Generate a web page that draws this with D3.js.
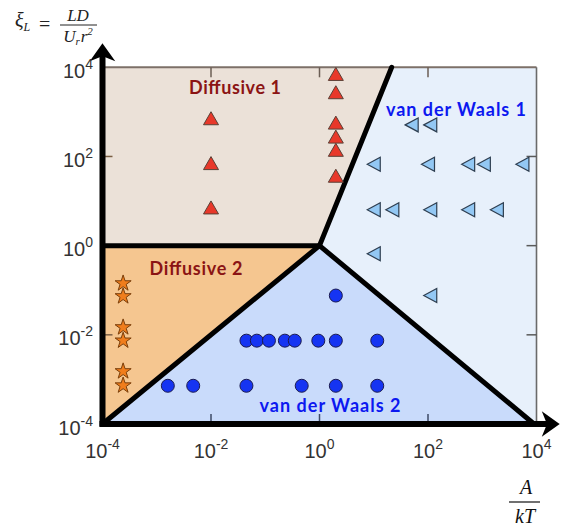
<!DOCTYPE html>
<html><head><meta charset="utf-8">
<script src="https://cdn.jsdelivr.net/npm/d3@7"></script>
<style>
html,body{margin:0;padding:0;background:#fff;}
svg{display:block;}
</style></head>
<body>
<svg id="chart" width="563" height="528"></svg>
<script>
// ---------- data ----------
const tickValues = [1e-4, 1e-2, 1e0, 1e2, 1e4];
const tickExponents = ["-4", "-2", "0", "2", "4"];

// Diffusive 1 (red up-triangles)
const diff1X = [0.01, 0.01, 0.01, 2, 2, 2, 2, 2, 2];
const diff1Y = [720, 71, 7.2, 7100, 2760, 575, 279, 141, 37];

// van der Waals 1 (light-blue left-triangles)
const vdw1X = [50, 110, 10, 100, 550, 1070, 5500, 10, 22, 110, 550, 1860, 10, 110];
const vdw1Y = [511, 511, 67, 67, 67, 67, 67, 6.4, 6.4, 6.4, 6.4, 6.4, 0.66, 0.076];

// van der Waals 2 (blue circles)
const vdw2X = [2, 0.045, 0.07, 0.117, 0.23, 0.35, 0.95, 2, 11.6, 0.0016, 0.0047, 0.045, 0.47, 2, 11.6];
const vdw2Y = [0.076, 0.0074, 0.0074, 0.0074, 0.0074, 0.0074, 0.0074, 0.0074, 0.0074,
               0.00072, 0.00072, 0.00072, 0.00072, 0.00072, 0.00072];

// Diffusive 2 (orange stars)
const diff2X = [2.4e-4, 2.4e-4, 2.4e-4, 2.4e-4, 2.4e-4, 2.4e-4];
const diff2Y = [0.15, 0.077, 0.0155, 0.0078, 0.0016, 0.00077];

// regime boundaries (data units)
const diff1Poly = [[1e-4, 1], [1e-4, 1e4], [21.4, 1e4], [1, 1]];
const diff2Poly = [[1e-4, 1e-4], [1e-4, 1], [1, 1]];
const vdw2Poly  = [[1e-4, 1e-4], [1, 1], [9000, 1e-4]];
const vdw1Poly  = [[1, 1], [21.4, 1e4], [1e4, 1e4], [1e4, 1e-4], [9000, 1e-4]];
const boundaries = [
  [[1e-4, 1], [1, 1]],
  [[1e-4, 1e-4], [1, 1]],
  [[1, 1], [21.4, 1e4]],
  [[1, 1], [9000, 1e-4]]
];
const regionLabels = ["Diffusive 1", "Diffusive 2", "van der Waals 1", "van der Waals 2"];

// ---------- drawing ----------
const svg = d3.select("#chart");
const x = d3.scaleLog().domain([1e-4, 1e4]).range([102.5, 536.5]);
const y = d3.scaleLog().domain([1e-4, 1e4]).range([424, 67.3]);
const line = d3.line().x(d => x(d[0])).y(d => y(d[1]));

function poly(pts, fill) {
  svg.append("path").attr("d", line(pts) + "Z").attr("fill", fill).attr("stroke", "none");
}
poly(vdw1Poly, "#e7f0fb");
poly(diff1Poly, "#ebe1d8");
poly(diff2Poly, "#f5c690");
poly(vdw2Poly, "#c9dbfb");

// frame top / right
svg.append("line").attr("x1", x(1e-4)).attr("x2", x(1e4)).attr("y1", y(1e4)).attr("y2", y(1e4))
  .attr("stroke", "#7d7068").attr("stroke-width", 2);
svg.append("line").attr("x1", x(1e4)).attr("x2", x(1e4)).attr("y1", y(1e4)).attr("y2", y(1e-4))
  .attr("stroke", "#6a6a6a").attr("stroke-width", 1.6);

// inward ticks
const inner = [1e-2, 1e0, 1e2];
const tl = 10;
inner.forEach(v => {
  svg.append("line").attr("x1", x(v)).attr("x2", x(v)).attr("y1", y(1e4)).attr("y2", y(1e4) + tl)
    .attr("stroke", "#6b5e55").attr("stroke-width", 1.5);
  svg.append("line").attr("x1", x(v)).attr("x2", x(v)).attr("y1", y(1e-4)).attr("y2", y(1e-4) - tl)
    .attr("stroke", "#3d4a66").attr("stroke-width", 1.5);
  svg.append("line").attr("x1", x(1e-4)).attr("x2", x(1e-4) + tl).attr("y1", y(v)).attr("y2", y(v))
    .attr("stroke", "#7a5e44").attr("stroke-width", 1.5);
  svg.append("line").attr("x1", x(1e4)).attr("x2", x(1e4) - tl).attr("y1", y(v)).attr("y2", y(v))
    .attr("stroke", "#5a5a5a").attr("stroke-width", 1.5);
});

// thick boundaries
boundaries.forEach(b => {
  svg.append("path").attr("d", line(b)).attr("fill", "none").attr("stroke", "#000")
    .attr("stroke-width", 5).attr("stroke-linecap", "round");
});

// markers
const upTri = (cx, cy) => `M${cx},${cy - 6.5}L${cx + 7.5},${cy + 6.5}L${cx - 7.5},${cy + 6.5}Z`;
const leftTri = (cx, cy) => `M${cx - 6.5},${cy}L${cx + 6.5},${cy - 7}L${cx + 6.5},${cy + 7}Z`;

svg.append("g").selectAll("path").data(d3.zip(diff1X, diff1Y)).join("path")
  .attr("d", d => upTri(x(d[0]), y(d[1])))
  .attr("fill", "#e8382a").attr("stroke", "#5a4036").attr("stroke-width", 1);

svg.append("g").selectAll("path").data(d3.zip(vdw1X, vdw1Y)).join("path")
  .attr("d", d => leftTri(x(d[0]), y(d[1])))
  .attr("fill", "#93c8f4").attr("stroke", "#2e3e50").attr("stroke-width", 1.2);

svg.append("g").selectAll("circle").data(d3.zip(vdw2X, vdw2Y)).join("circle")
  .attr("cx", d => x(d[0])).attr("cy", d => y(d[1])).attr("r", 6.5)
  .attr("fill", "#1534f2").attr("stroke", "#1a1a50").attr("stroke-width", 1);

const star = d3.symbol().type(d3.symbolStar).size(80);
svg.append("g").selectAll("path").data(d3.zip(diff2X, diff2Y)).join("path")
  .attr("d", star)
  .attr("transform", d => `translate(${x(d[0])},${y(d[1]) + 1})`)
  .attr("fill", "#f07d1c").attr("stroke", "#7a3e0a").attr("stroke-width", 1);

// axes
svg.append("line").attr("x1", x(1e-4)).attr("x2", x(1e-4)).attr("y1", y(1e-4) + 2.5).attr("y2", 52)
  .attr("stroke", "#000").attr("stroke-width", 6);
svg.append("line").attr("x1", x(1e-4) - 3).attr("x2", 550).attr("y1", y(1e-4)).attr("y2", y(1e-4))
  .attr("stroke", "#000").attr("stroke-width", 6);
const ax0 = x(1e-4), ay0 = 45;
svg.append("path").attr("d", `M${ax0},${ay0}L${ax0 + 10},${ay0 + 14}L${ax0},${ay0 + 10}L${ax0 - 10},${ay0 + 14}Z`)
  .attr("fill", "#000").attr("stroke", "#000").attr("stroke-width", 2).attr("stroke-linejoin", "miter");
const bx0 = 558, by0 = y(1e-4);
svg.append("path").attr("d", `M${bx0},${by0}L${bx0 - 14},${by0 - 10}L${bx0 - 10},${by0}L${bx0 - 14},${by0 + 10}Z`)
  .attr("fill", "#000").attr("stroke", "#000").attr("stroke-width", 2);

// tick labels
const tickFont = "'Liberation Sans', Arial, sans-serif";
tickValues.forEach((v, i) => {
  const t = svg.append("text").attr("x", x(v)).attr("y", 457.5).attr("text-anchor", "middle")
    .attr("font-family", tickFont).attr("font-size", 20).attr("fill", "#333");
  t.append("tspan").text("10");
  t.append("tspan").attr("font-size", 14).attr("dy", -9).text(tickExponents[i]);
  const u = svg.append("text").attr("x", 93).attr("y", y(v) + 10.5).attr("text-anchor", "end")
    .attr("font-family", tickFont).attr("font-size", 20).attr("fill", "#333");
  u.append("tspan").text("10");
  u.append("tspan").attr("font-size", 14).attr("dy", -9).text(tickExponents[i]);
});

// region labels
const lblFont = "Lato, 'Open Sans', sans-serif";
const lblPos = [[189, 94, "#8b1414", 92], [149.5, 275, "#8b1414", 93], [386, 116, "#0c18f0", 140], [259.5, 412, "#0c18f0", 141]];
regionLabels.forEach((s, i) => {
  svg.append("text").attr("x", lblPos[i][0]).attr("y", lblPos[i][1]).attr("text-anchor", "start")
    .attr("font-family", lblFont).attr("font-weight", "bold").attr("font-size", 18)
    .attr("textLength", lblPos[i][3]).attr("lengthAdjust", "spacing")
    .attr("fill", lblPos[i][2]).text(s);
});

// axis titles (math style)
const mathFont = "'Liberation Serif', 'Times New Roman', serif";
const yt = svg.append("text").attr("x", 15).attr("y", 27).attr("font-family", mathFont)
  .attr("font-style", "italic").attr("font-size", 20).attr("fill", "#222");
yt.append("tspan").text("ξ");
yt.append("tspan").attr("font-size", 12).attr("dy", 4).text("L");
svg.append("text").attr("x", 39).attr("y", 31).attr("font-family", mathFont).attr("font-size", 20)
  .attr("fill", "#222").text("=");
svg.append("text").attr("x", 78).attr("y", 20.5).attr("text-anchor", "middle").attr("font-family", mathFont)
  .attr("font-style", "italic").attr("font-size", 17).attr("fill", "#222").text("LD");
svg.append("line").attr("x1", 60).attr("x2", 97).attr("y1", 25).attr("y2", 25).attr("stroke", "#222").attr("stroke-width", 1);
const den = svg.append("text").attr("x", 78).attr("y", 41.5).attr("text-anchor", "middle").attr("font-family", mathFont)
  .attr("font-style", "italic").attr("font-size", 17).attr("fill", "#222");
den.append("tspan").text("U");
den.append("tspan").attr("font-size", 11).attr("dy", 3).text("r");
den.append("tspan").attr("dy", -3).attr("dx", 1).text("r");
den.append("tspan").attr("font-size", 11).attr("dy", -7).text("2");

svg.append("text").attr("x", 526).attr("y", 493.5).attr("text-anchor", "middle").attr("font-family", mathFont)
  .attr("font-style", "italic").attr("font-size", 20).attr("fill", "#111").text("A");
svg.append("line").attr("x1", 509).attr("x2", 540).attr("y1", 502).attr("y2", 502).attr("stroke", "#111").attr("stroke-width", 1.2);
svg.append("text").attr("x", 525).attr("y", 523).attr("text-anchor", "middle").attr("font-family", mathFont)
  .attr("font-style", "italic").attr("font-size", 20).attr("fill", "#111").text("kT");
</script>
</body></html>
